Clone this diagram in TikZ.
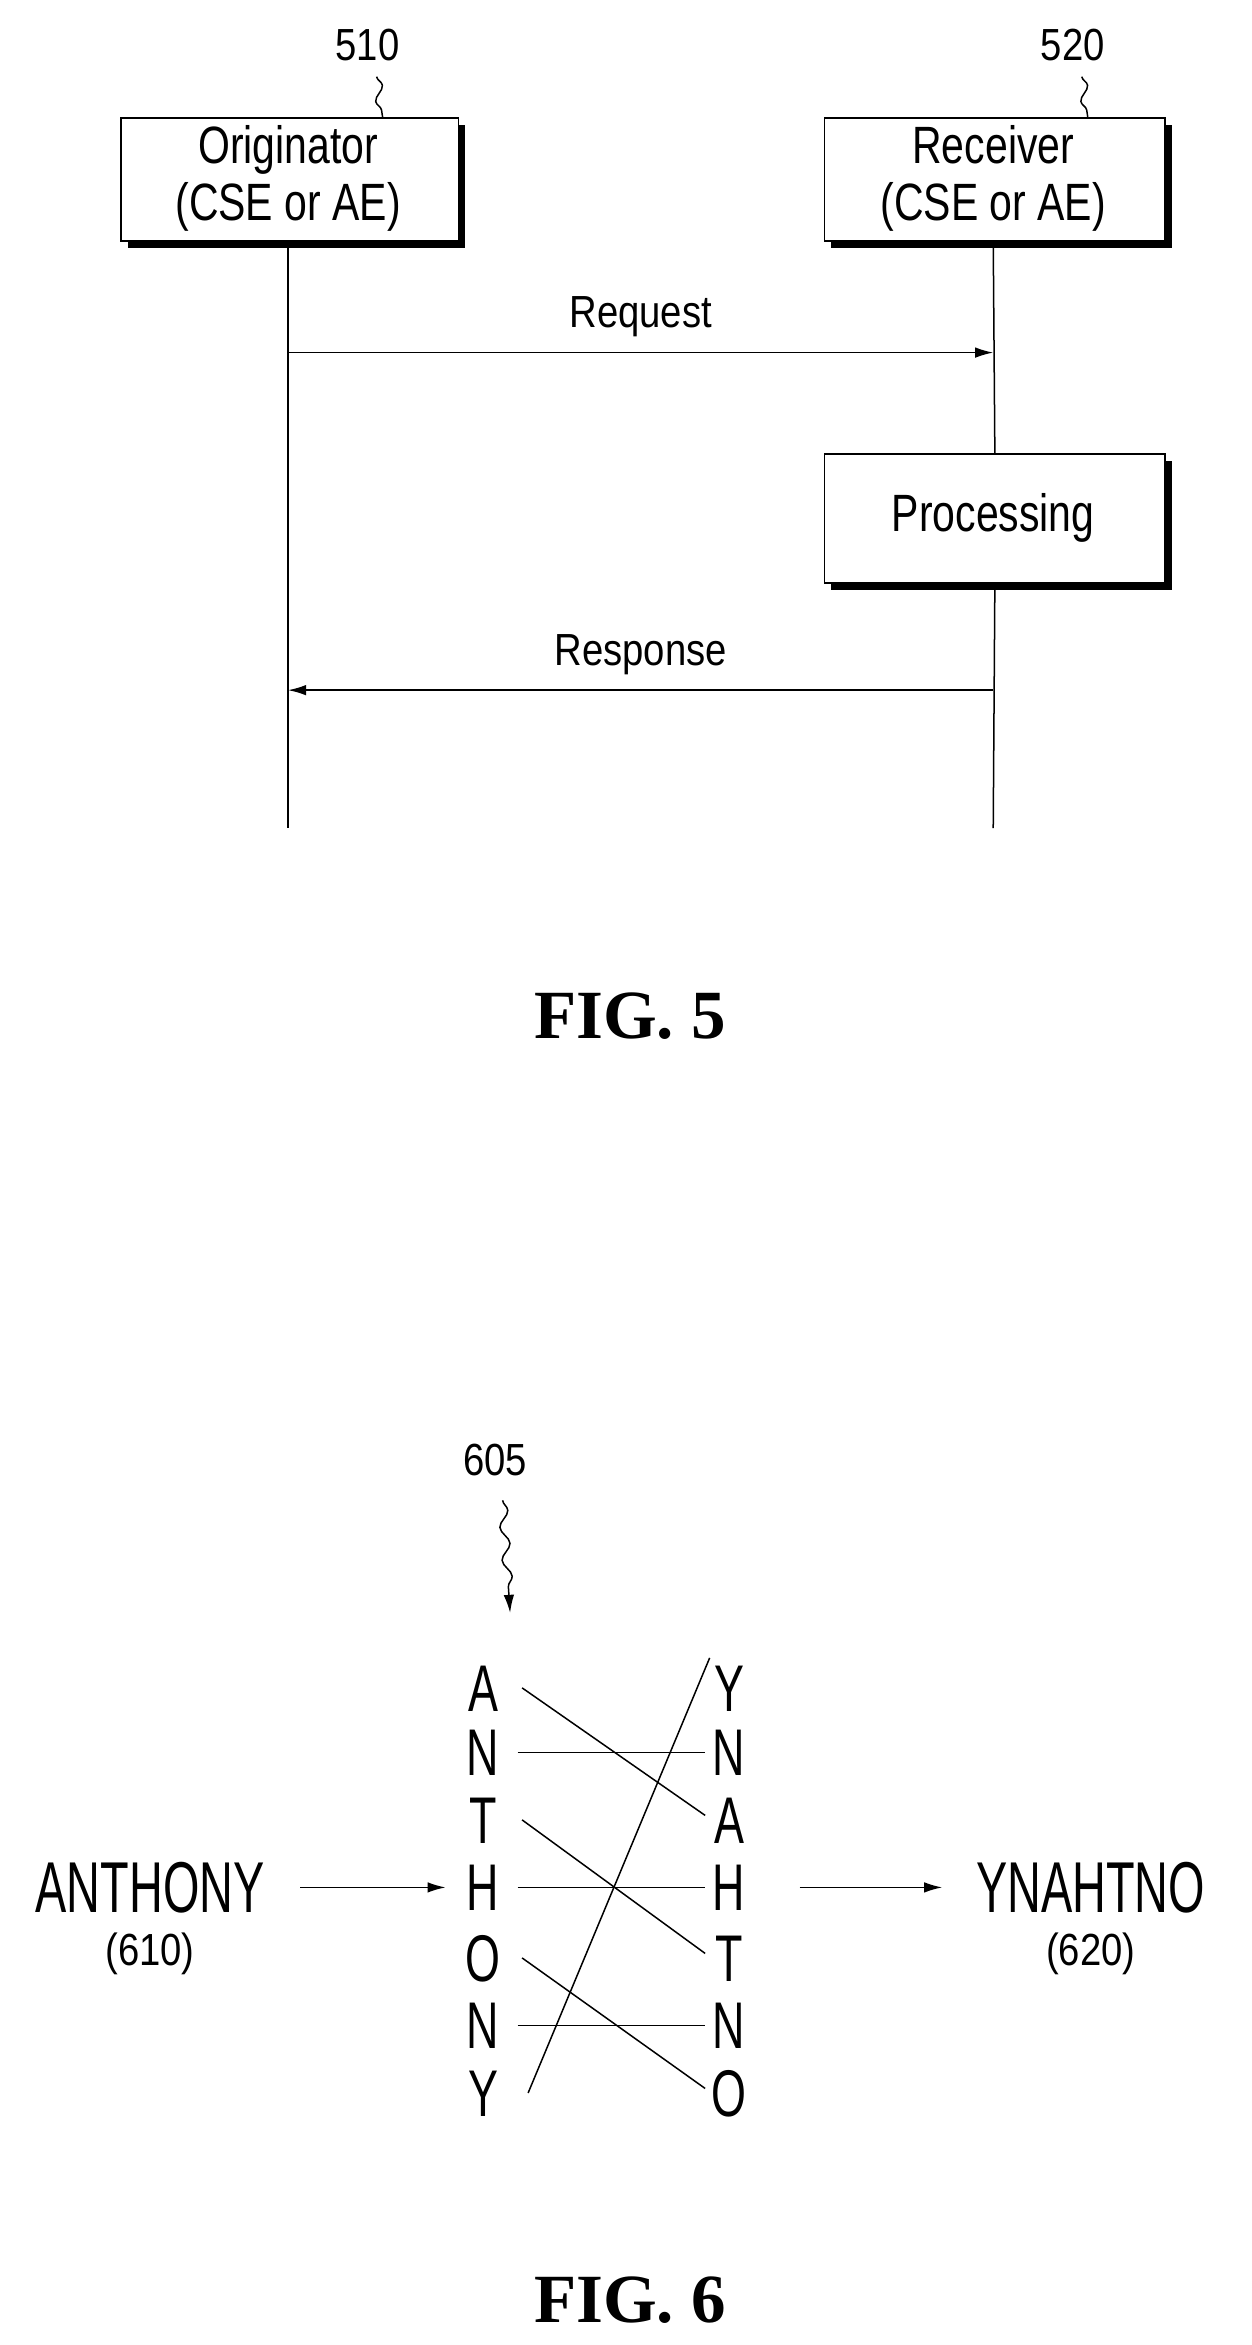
\documentclass[tikz,border=0pt]{standalone}
\usepackage{fontspec}
\setmainfont{Liberation Sans}
\newfontfamily\figfont{Liberation Serif}
\usetikzlibrary{arrows.meta,decorations.pathmorphing}
\begin{document}
\begin{tikzpicture}[x=1pt,y=-1pt,line width=1pt,
  txt/.style={font=\fontsize{35}{38}\selectfont,inner sep=0pt,xscale=0.78},
  lbl/.style={font=\fontsize{30}{30}\selectfont,inner sep=0pt,xscale=0.85},
  let/.style={font=\fontsize{44}{44}\selectfont,inner sep=0pt,xscale=0.68,text height=31pt,text depth=0pt},
  big/.style={font=\fontsize{48}{50}\selectfont,inner sep=0pt,xscale=0.65},
  fig/.style={font=\figfont\bfseries\fontsize{46}{50}\selectfont,inner sep=0pt},
  arr/.style={-{Latex[length=12pt,width=7pt]}},
  shadowbox/.style={draw,line width=1.2pt,fill=white}]
\useasboundingbox (0,0) rectangle (834,1563);
% FIG 5 boxes
\fill (85,83) rectangle (310,165);
\node[shadowbox,minimum width=225,minimum height=82,anchor=north west] (orig) at (80,78) {};
\node[txt,align=center] (origt) at (192,119) {Originator\\(CSE or AE)};
\fill (554,83) rectangle (781,165);
\node[shadowbox,minimum width=227,minimum height=82,anchor=north west] (recv) at (549,78) {};
\node[txt,align=center] (recvt) at (662,119) {Receiver\\(CSE or AE)};
\fill (554,307) rectangle (781,393);
\node[shadowbox,minimum width=227,minimum height=86,anchor=north west] (proc) at (549,302) {};
\node[txt] (proct) at (662,345) {Processing};
\node[lbl] (n510) at (245,30) {510};
\node[lbl] (n520) at (715,30) {520};
\draw[decorate,decoration={snake,amplitude=3pt,segment length=20pt}] (n510.south) ++(6,10) coordinate (a510) -- (255,78);
\draw[decorate,decoration={snake,amplitude=3pt,segment length=20pt}] (n520.south) ++(6,10) coordinate (a520) -- (725,78);
% lifelines
\coordinate (l1e) at (192,552);
\coordinate (l2e) at (662,552);
\draw (orig.south -| 192,0) -- (l1e);
\draw (662,160) -- (proc.north);
\draw (proc.south) -- (l2e);
\coordinate (rq1) at (192,235); \coordinate (rq2) at (662,235);
\draw[arr] (rq1) -- (rq2) node[lbl,midway,above=10pt] (req) {Request};
\coordinate (rs1) at (662,460); \coordinate (rs2) at (192,460);
\draw[arr] (rs1) -- (rs2) node[lbl,midway,above=10pt] (resp) {Response};
\node[fig] (f5) at (420,677) {FIG. 5};
% FIG 6
\node[lbl] (n605) at (330,973) {605};
\coordinate (p605) at (340,1075);
\draw[arr,decorate,decoration={snake,amplitude=3pt,segment length=22pt,post length=14pt}] (335,1000) -- (p605);
\foreach \c/\y/\n in {A/1125/1,N/1168/2,T/1213/3,H/1258/4,O/1305/5,N/1350/6,Y/1395/7}
  \node[let] (L\n) at (322,\y) {\c};
\foreach \c/\y/\n in {Y/1125/1,N/1168/2,A/1213/3,H/1258/4,T/1305/5,N/1350/6,O/1395/7}
  \node[let] (R\n) at (486,\y) {\c};
\draw (345,1168) -- (470,1168);
\draw (345,1258) -- (470,1258);
\draw (345,1350) -- (470,1350);
\draw (348,1125) -- (470,1210);
\draw (348,1213) -- (470,1302);
\draw (348,1305) -- (470,1392);
\draw (352,1395) -- (473,1105);
\node[big] (anth) at (100,1258) {ANTHONY};
\node[lbl] (n610) at (100,1302) {(610)};
\node[big] (ynah) at (727,1258) {YNAHTNO};
\node[lbl] (n620) at (727,1302) {(620)};
\draw[arr] (200,1258) -- (297,1258);
\draw[arr] (533,1258) -- (628,1258);
\node[fig] (f6) at (420,1533) {FIG. 6};
\end{tikzpicture}
\end{document}
